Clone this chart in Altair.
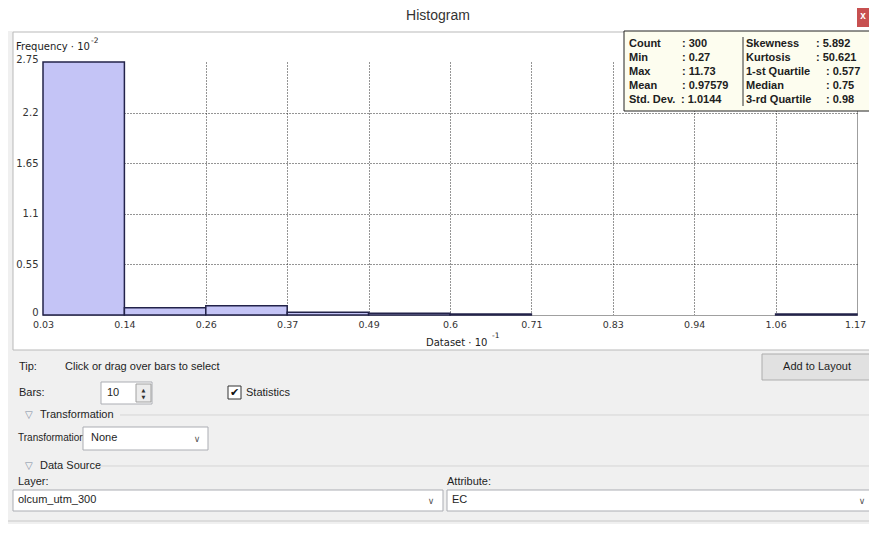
import altair as alt
import pandas as pd

# ---------------- data ----------------
bin_edges = [0.027, 0.1416, 0.2562, 0.3708, 0.4854, 0.6, 0.7146, 0.8292, 0.9438, 1.0584, 1.173]
bin_counts = [275, 8, 10, 3, 2, 1, 0, 0, 0, 1]
y_ticks = [0, 0.55, 1.1, 1.65, 2.2, 2.75]

stat_names_left = ["Count", "Min", "Max", "Mean", "Std. Dev."]
stat_values_left = [": 300", ": 0.27", ": 11.73", ": 0.97579", ": 1.0144"]
stat_names_right = ["Skewness", "Kurtosis", "1-st Quartile", "Median", "3-rd Quartile"]
stat_values_right = [": 5.892", ": 50.621", ": 0.577", ": 0.75", ": 0.98"]

hist = pd.DataFrame({"lo": bin_edges[:-1], "hi": bin_edges[1:], "n": bin_counts})
one = pd.DataFrame({"k": [0]})

# ---------------- layout helpers (page pixels -> plot coords) ----------------
X0, Y0 = 43, 62
UI = "Liberation Sans"
AX = "DejaVu Sans"


def vx(p):
    return p - X0


def vy(p):
    return p - Y0


def txt(s, px, py, size=11, font=UI, color="#1e1e1e", weight="normal", align="left"):
    return alt.Chart(one).mark_text(
        text=s, fontSize=size, font=font, color=color, fontWeight=weight,
        align=align, baseline="middle"
    ).encode(x=alt.value(vx(px)), y=alt.value(vy(py)))


def box(x1, x2, y1, y2, fill="white", stroke="#abadb3", sw=1):
    m = dict(fill=fill, strokeWidth=sw)
    if stroke:
        m["stroke"] = stroke
    return alt.Chart(one).mark_rect(**m).encode(
        x=alt.value(vx(x1)), x2=alt.value(vx(x2)), y=alt.value(vy(y1)), y2=alt.value(vy(y2))
    )


def hline(x1, x2, y, color="#d5d5d5"):
    return alt.Chart(one).mark_rule(color=color, strokeWidth=1).encode(
        x=alt.value(vx(x1)), x2=alt.value(vx(x2)), y=alt.value(vy(y))
    )


def vline(x, y1, y2, color="#444"):
    return alt.Chart(one).mark_rule(color=color, strokeWidth=1).encode(
        x=alt.value(vx(x)), y=alt.value(vy(y1)), y2=alt.value(vy(y2))
    )


# ---------------- histogram ----------------
bars = alt.Chart(hist).transform_filter("datum.n > 0").transform_calculate(
    freq="datum.n / 100"
).mark_rect(fill="#c4c4f6", stroke="#23234a", strokeWidth=1.5).encode(
    x=alt.X(
        "lo:Q",
        scale=alt.Scale(domain=[bin_edges[0], bin_edges[-1]], nice=False, zero=False),
        axis=alt.Axis(
            values=bin_edges, format=".2~f", title=None, ticks=False, tickSize=0,
            labelPadding=4, labelFont=AX, labelFontSize=9.5, labelColor="#333",
            domainColor="#a0a0a0", labelFlush=False,
            labelOffset={"condition": {"test": "datum.value > 1.17", "value": -2}, "value": 0},
            grid=True, gridColor="#2a2a2a",
            gridDash={"condition": {"test": "datum.value > 1.17", "value": []}, "value": [1, 2]},
            gridOpacity={"condition": {"test": "datum.value > 1.17", "value": 0.45}, "value": 1},
        ),
    ),
    x2="hi:Q",
    y=alt.Y(
        "freq:Q",
        scale=alt.Scale(domain=[0, 2.75], nice=False),
        axis=alt.Axis(
            values=y_ticks, format=".2~f", title=None, ticks=False, tickSize=0, labelPadding=5,
            labelFont=AX, labelFontSize=10, labelColor="#333", domainColor="#a0a0a0",
            labelFlush=False,
            labelOffset={"condition": {"test": "datum.value > 2.7 || datum.value < 0.01", "value": -3}, "value": 0},
            grid=True, gridColor="#2a2a2a", gridDash=[1, 2],
            gridOpacity={"condition": {"test": "datum.value > 2.7 || datum.value < 0.01", "value": 0}, "value": 1},
        ),
    ),
    y2=alt.datum(0),
)

layers = []
# background pieces (outside plot area)
layers.append(box(8, 13, 31, 350, fill="#f0f0f0", stroke=None))
layers.append(box(8, 900, 350, 540, fill="#f0f0f0", stroke=None))
layers.append(box(13, 900, 32, 350, fill="transparent", stroke="#b9b9b9"))
# close button
layers.append(box(857, 900, 0, 27, fill="#c75050", stroke=None))
layers.append(txt("x", 863, 16, size=10, color="white", weight="bold", align="center"))
# window title
layers.append(txt("Histogram", 438, 16, size=14, color="#333", align="center"))

layers.append(bars)

# axis titles
layers.append(txt("Frequency \u00b7 10", 16, 47, size=10, font=AX, color="#222"))
layers.append(txt("-2", 91, 41, size=7.5, font=AX, color="#222"))
layers.append(txt("Dataset \u00b7 10", 426, 343, size=10, font=AX, color="#222"))
layers.append(txt("-1", 492, 336, size=7.5, font=AX, color="#222"))

# statistics box
layers.append(box(624, 900, 31, 111, fill="#fdfdef", stroke="#222"))
layers.append(vline(743, 37, 106, color="#333"))
left_val_x = [682, 682, 682, 682, 681]
right_val_x = [816, 816, 826, 826, 826]
for i in range(5):
    yy = 44 + 14 * i
    layers.append(txt(stat_names_left[i], 629, yy, size=11, weight="bold", color="#202020"))
    layers.append(txt(stat_values_left[i], left_val_x[i], yy, size=11, weight="bold", color="#202020"))
    layers.append(txt(stat_names_right[i], 746, yy, size=11, weight="bold", color="#202020"))
    layers.append(txt(stat_values_right[i], right_val_x[i], yy, size=11, weight="bold", color="#202020"))

# ---------------- control panel ----------------
layers.append(txt("Tip:", 19, 367))
layers.append(txt("Click or drag over bars to select", 65, 367))
layers.append(box(762, 900, 354, 380, fill="#e1e1e1", stroke="#adadad"))
layers.append(txt("Add to Layout", 817, 367, align="center"))

layers.append(txt("Bars:", 19, 393))
layers.append(box(101, 152, 382, 404))
layers.append(txt("10", 107, 393))
layers.append(box(136, 151, 384, 402, fill="#ececec", stroke="#a0a0a0"))
layers.append(txt("\u25b2", 143.5, 389.5, size=5, font=AX, color="#333", align="center"))
layers.append(txt("\u25bc", 143.5, 396.5, size=5, font=AX, color="#333", align="center"))
layers.append(box(228, 241, 386, 399, stroke="#333"))
layers.append(txt("\u2714", 234.5, 392.5, size=11, font=AX, color="#111", align="center"))
layers.append(txt("Statistics", 246, 393))

layers.append(txt("\u25bd", 25, 415, size=10, font=AX, color="#7d8ca3"))
layers.append(txt("Transformation", 40, 415))
layers.append(hline(120, 900, 415))
layers.append(txt("Transformation:", 18, 438, size=10))
layers.append(box(83, 208, 427, 450))
layers.append(txt("None", 91, 438))
layers.append(txt("\u2228", 197, 439, size=9, font=AX, color="#555", align="center"))

layers.append(txt("\u25bd", 25, 466, size=10, font=AX, color="#7d8ca3"))
layers.append(txt("Data Source", 40, 466))
layers.append(hline(100, 900, 466))
layers.append(txt("Layer:", 18, 482))
layers.append(txt("Attribute:", 447, 482))
layers.append(box(13, 443, 490, 511))
layers.append(txt("olcum_utm_300", 18, 500))
layers.append(txt("\u2228", 431, 501, size=9, font=AX, color="#555", align="center"))
layers.append(box(447, 874, 490, 511))
layers.append(txt("EC", 452, 500))
layers.append(txt("\u2228", 862, 501, size=9, font=AX, color="#555", align="center"))
layers.append(hline(8, 900, 521, color="#c8c8c8"))

chart = alt.layer(*layers).properties(
    width=814,
    height=253,
    autosize=alt.AutoSizeParams(type="none"),
    padding={"left": 35, "top": 54, "right": 12, "bottom": 209},
    background="white",
).configure_view(stroke=None)

chart.save("out.html", embed_options={"renderer": "svg", "actions": False})
